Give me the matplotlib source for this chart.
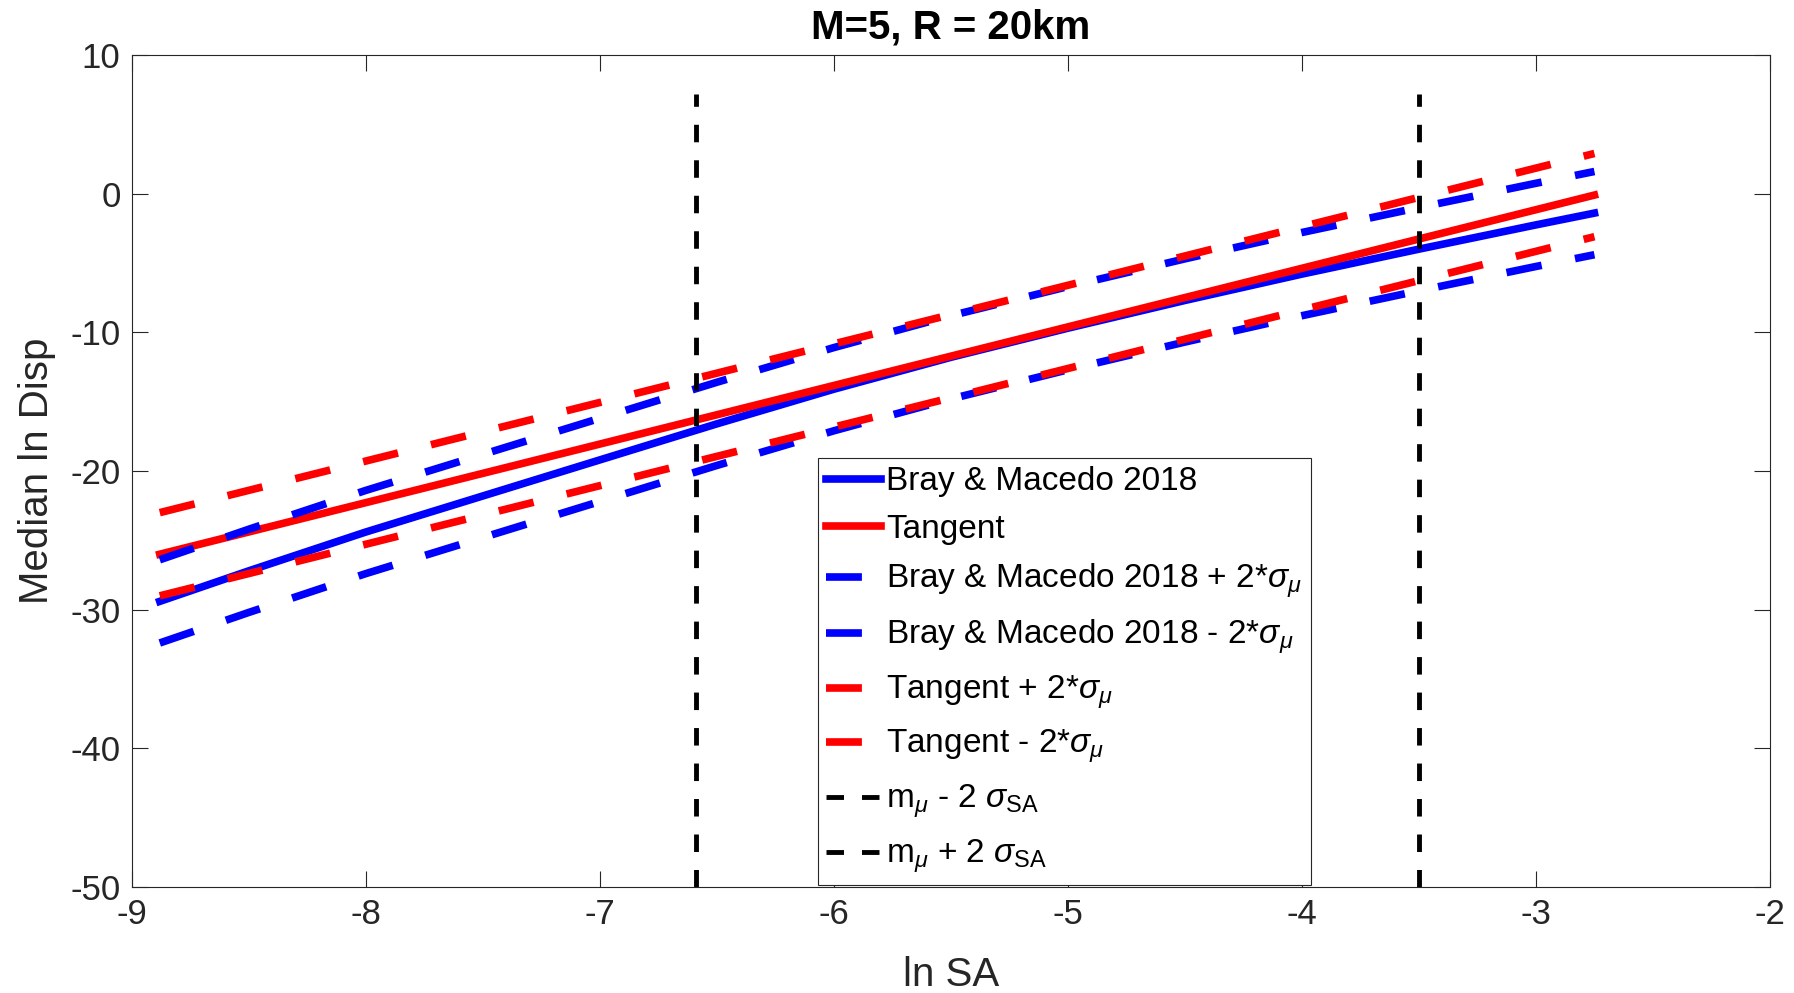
import matplotlib
matplotlib.use('Agg')
import matplotlib.pyplot as plt
import numpy as np

plt.rcParams['font.family'] = ['Liberation Sans', 'DejaVu Sans']
plt.rcParams['mathtext.fontset'] = 'custom'
plt.rcParams['mathtext.rm'] = 'Liberation Sans'
plt.rcParams['mathtext.it'] = 'Liberation Sans:italic'
plt.rcParams['mathtext.bf'] = 'Liberation Sans:bold'
plt.rcParams['axes.unicode_minus'] = False

# ln SA values and median ln Disp
ln_sa = [-8.88, -8.5, -8.0, -7.5, -7.0, -6.5, -6.0, -5.5, -5.0, -4.5, -4.0, -3.5, -3.0, -2.75]
bray_macedo = [-29.4, -27.2, -24.4, -21.8, -19.2, -16.6, -14.1, -11.8, -9.7, -7.7, -5.8, -4.0, -2.25, -1.4]
tangent_x = [-8.88, -2.75]
tangent_y = [-26.0, -0.1]
two_sigma_mu = 3.0
sa_bounds = [-6.59, -3.50]     # m_mu -/+ 2 sigma_SA
vline_top = 7.2

bm = np.array(bray_macedo)
tg = np.array(tangent_y)

fig = plt.figure(figsize=(17.94, 9.93), dpi=100)
ax = fig.add_axes([0.0734, 0.1067, 0.9132, 0.8379])

lw = 5.5
dash = (4.7, 4.45)
kdash = (3.6, 3.7)
ax.plot(ln_sa, bm, color='blue', lw=lw, label='Bray & Macedo 2018')
ax.plot(tangent_x, tg, color='red', lw=lw, label='Tangent')
ax.plot(ln_sa, bm + two_sigma_mu, color='blue', lw=lw, dashes=dash,
        label=r'Bray & Macedo 2018 + 2*$\sigma_{\mu}$')
ax.plot(ln_sa, bm - two_sigma_mu, color='blue', lw=lw, dashes=dash,
        label=r'Bray & Macedo 2018 - 2*$\sigma_{\mu}$')
ax.plot(tangent_x, tg + two_sigma_mu, color='red', lw=lw, dashes=dash,
        label=r'Tangent + 2*$\sigma_{\mu}$')
ax.plot(tangent_x, tg - two_sigma_mu, color='red', lw=lw, dashes=dash,
        label=r'Tangent - 2*$\sigma_{\mu}$')
ax.plot([sa_bounds[0]] * 2, [-50, vline_top], color='black', lw=3.5,
        dashes=kdash, label=r'm$_{\mu}$ - 2 $\sigma_{\mathrm{SA}}$')
ax.plot([sa_bounds[1]] * 2, [-50, vline_top], color='black', lw=3.5,
        dashes=kdash, label=r'm$_{\mu}$ + 2 $\sigma_{\mathrm{SA}}$')

ax.set_xlim(-9, -2)
ax.set_ylim(-50, 10)
ax.set_xticks(range(-9, -1))
ax.set_yticks(range(-50, 11, 10))
ax.tick_params(direction='in', top=True, right=True, labelsize=25,
               length=11.5, width=0.8, color='#262626', labelcolor='#262626', pad=8)
for s in ax.spines.values():
    s.set_color('#262626')
    s.set_linewidth(0.8)

ax.set_xlabel('ln SA', fontsize=29, color='#262626', labelpad=18)
ax.set_ylabel('Median ln Disp', fontsize=29, color='#262626', labelpad=10)
ax.set_title('M=5, R = 20km', fontsize=29, fontweight='bold', pad=12)

leg = ax.legend(loc='lower left', bbox_to_anchor=(0.419, 0.003), fontsize=24,
                frameon=True, fancybox=False, framealpha=1, edgecolor='#262626',
                handlelength=1.65, handletextpad=0.15, labelspacing=0.5,
                borderpad=0.25, borderaxespad=0)
leg.get_frame().set_linewidth(0.8)

fig.savefig('out.png', dpi=100)
